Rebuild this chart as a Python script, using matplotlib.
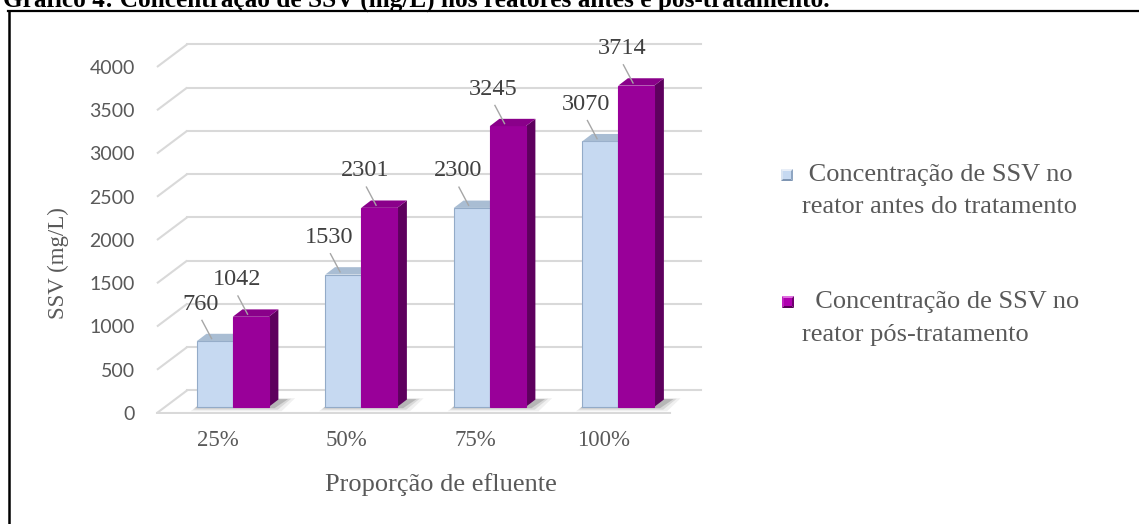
import matplotlib
matplotlib.use("Agg")
import matplotlib.pyplot as plt
from matplotlib.patches import Polygon, Rectangle
from matplotlib.lines import Line2D

# ---- data ----
categories = ["25%", "50%", "75%", "100%"]
antes = [760, 1530, 2300, 3070]
pos_trat = [1042, 2301, 3245, 3714]
y_ticks = [0, 500, 1000, 1500, 2000, 2500, 3000, 3500, 4000]
legend_lines = [
    [" Concentração de SSV no", "reator antes do tratamento"],
    ["  Concentração de SSV no", "reator pós-tratamento"],
]
title_text = "Gráfico 4: Concentração de SSV (mg/L) nos reatores antes e pós-tratamento."
x_title = "Proporção de efluente"
y_title = "SSV (mg/L)"

# ---- style ----
SERIF = "Liberation Serif"
SANS = "Lato"
GRID = "#d9d9d9"
TXT = "#595959"
LBL = "#404040"
BLUE = dict(front="#c6d9f1", top="#a9bdd3", side="#8da6c4", edge="#93abc8")
PURP = dict(front="#990099", top="#8a008a", side="#5e005e", edge="#990099")

W, H = 1139, 524
fig = plt.figure(figsize=(W / 100, H / 100), dpi=100)
fig.patch.set_facecolor("white")


def fx(px):
    return px / W


def fy(py):
    return 1 - py / H


ax = fig.add_axes([fx(150), fy(414), 610 / W, 399 / H])
ax.set_xlim(-0.5292, 4.218)
ax.set_ylim(-11.6, 4601)
for s in ax.spines.values():
    s.set_visible(False)
ax.patch.set_alpha(0)

# 3D box geometry (front-left / front-right of floor, depth offset)
x0, x1 = -0.475, 3.52
DX, DY = 0.235, 262
# bar placement inside the depth and bar thickness
sx, sy = 0.063, 70.7
GO = 0.052
BW = 0.28
bdx, bdy = 0.075, 85

# walls: diagonal on the side wall + horizontal on the back wall
for v in y_ticks:
    ax.plot([x0, x0 + DX], [v, v + DY], color=GRID, lw=1.5, solid_capstyle="butt", zorder=1)
    ax.plot([x0 + DX, x1 + DX], [v + DY, v + DY], color=GRID, lw=1.5, zorder=1)
ax.plot([x0, x1], [0, 0], color=GRID, lw=1.5, zorder=1)

ax.set_yticks(y_ticks)
ax.set_yticklabels([str(v) for v in y_ticks], fontfamily=SANS, fontsize=14, color=TXT)
ax.tick_params(axis="y", length=0, pad=10.8)
ax.set_xticks(range(len(categories)))
ax.set_xticklabels(categories, fontfamily=SERIF, fontsize=16.5, color=TXT)
ax.tick_params(axis="x", length=0, pad=11.5)

ax.set_ylabel(y_title, fontfamily=SERIF, fontsize=16.5, color=TXT, va="center")
ax.yaxis.set_label_coords((58 - 150) / 610, (414 - 263) / 399)
ax.set_xlabel(x_title, fontfamily=SERIF, fontsize=19, color=TXT, va="center")
ax.xaxis.set_label_coords((441 - 150) / 610, (414 - 485) / 399)


def draw_bar(xl, val, col, z):
    xr = xl + BW
    yb, yt = sy, sy + val
    ax.add_patch(Polygon([(xr, yb), (xr + bdx, yb + bdy), (xr + bdx, yt + bdy), (xr, yt)],
                         closed=True, facecolor=col["side"], edgecolor="none", zorder=z))
    ax.add_patch(Rectangle((xl, yb), BW, val, facecolor=col["front"],
                           edgecolor=col["edge"], lw=0.8, zorder=z + 0.1))
    ax.add_patch(Polygon([(xl, yt), (xr, yt), (xr + bdx, yt + bdy), (xl + bdx, yt + bdy)],
                         closed=True, facecolor=col["top"], edgecolor="none", zorder=z + 0.2))
    return (xl + xr) / 2, yt


for i, cat in enumerate(categories):
    xa = i + sx + GO - BW
    xp = i + sx + GO
    # soft shadow on the floor
    for ex, ey, a in [(0.08, 50, 0.07), (0.05, 32, 0.12), (0.025, 15, 0.2)]:
        ax.add_patch(Polygon([(xa - ex * 0.6, sy - ey), (xp + BW + ex + 0.02, sy - ey),
                              (xp + BW + bdx + ex + 0.05, sy + bdy + ey * 0.3),
                              (xa + bdx, sy + bdy + ey * 0.3)],
                             closed=True, facecolor="#303030", edgecolor="none",
                             alpha=a, zorder=2))
    centers = []
    centers.append(draw_bar(xa, antes[i], BLUE, 3))
    centers.append(draw_bar(xp, pos_trat[i], PURP, 4))
    for (cx, yt), val in zip(centers, [antes[i], pos_trat[i]]):
        ax.plot([cx - 0.10, cx - 0.025], [yt + 240, yt + 30], color="#a6a6a6", lw=1.0, zorder=6)
        ax.text(cx - 0.11, yt + 428, f"{val}", ha="center", va="center",
                fontfamily=SERIF, fontsize=17.5, color=LBL, zorder=7)


# ---- legend ----
def bevel(x, y, s, face, light, mid, dark, darker):
    b = 2.4
    pts = lambda p: [(fx(a), fy(c)) for a, c in p]
    kw = dict(transform=fig.transFigure, edgecolor="none")
    fig.patches.append(Polygon(pts([(x, y), (x + s, y), (x + s - b, y + b), (x + b, y + b)]),
                               facecolor=light, **kw))
    fig.patches.append(Polygon(pts([(x, y), (x + b, y + b), (x + b, y + s - b), (x, y + s)]),
                               facecolor=mid, **kw))
    fig.patches.append(Polygon(pts([(x + s, y), (x + s, y + s), (x + s - b, y + s - b), (x + s - b, y + b)]),
                               facecolor=dark, **kw))
    fig.patches.append(Polygon(pts([(x, y + s), (x + s, y + s), (x + s - b, y + s - b), (x + b, y + s - b)]),
                               facecolor=darker, **kw))
    fig.patches.append(Polygon(pts([(x + b, y + b), (x + s - b, y + b), (x + s - b, y + s - b), (x + b, y + s - b)]),
                               facecolor=face, **kw))


bevel(781, 169, 12, "#c6d9f1", "#e8eef7", "#d8e3f1", "#8fa6c2", "#7f96b3")
bevel(782, 296, 12, "#b000b0", "#e070e0", "#c020c0", "#700070", "#5a005a")

line_y = [(175, 207), (302, 335)]
for lines, (ya, yb) in zip(legend_lines, line_y):
    for txt, yy in zip(lines, (ya, yb)):
        fig.text(fx(802), fy(yy), txt, ha="left", va="center", fontfamily=SERIF,
                 fontsize=19, color=TXT)

# ---- frame and caption ----
fig.lines.append(Line2D([fx(8.5), fx(8.5)], [fy(10.5), fy(530)], transform=fig.transFigure,
                        color="black", lw=1.8))
fig.lines.append(Line2D([fx(7.5), fx(1145)], [fy(10.5), fy(10.5)], transform=fig.transFigure,
                        color="black", lw=1.6))
fig.text(fx(3), fy(7), title_text, ha="left", va="baseline", fontfamily=SERIF,
         fontweight="bold", fontsize=18.2, color="black")

fig.savefig("out.png", dpi=100, facecolor="white")
